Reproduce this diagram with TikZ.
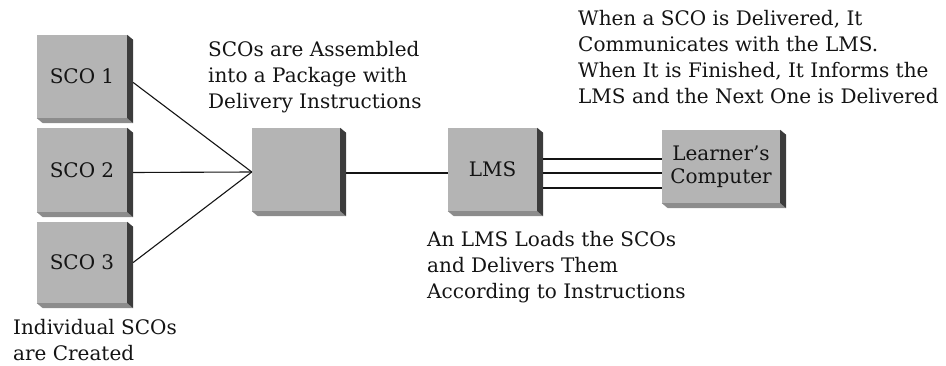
\documentclass[tikz,border=0pt]{standalone}
\usepackage{fontspec}
\setmainfont{DejaVu Serif}
\definecolor{boxface}{HTML}{B4B4B4}
\definecolor{boxright}{HTML}{3C3C3C}
\definecolor{boxbottom}{HTML}{8C8C8C}
\definecolor{ink}{HTML}{141414}
% extruded edges of a raised box: bottom strip first, dark right strip on top
\newcommand\raisededges[1]{%
  \fill[boxbottom] (#1.south west) -- (#1.south east) -- ++(6,5)
    -- ([shift={(6pt,-5pt)}]#1.south west) -- cycle;
  \fill[boxright] (#1.north east) -- ++(6,5)
    -- ([shift={(6pt,-5pt)}]#1.south east) -- (#1.south east) -- cycle;}
\begin{document}
\begin{tikzpicture}[x=1pt,y=-1pt,
  txt/.style={font=\fontsize{20}{26}\selectfont, text=ink},
  raised/.style 2 args={fill=boxface, draw=none, inner sep=0pt,
    minimum width=#1, minimum height=#2, txt},
  caption/.style={txt, align=left, anchor=north west, inner sep=0pt},
  wire/.style={draw=ink, line width=1.1pt}]
\useasboundingbox (0,0) rectangle (946,366);

% boxes
\node[raised={90pt}{83pt}] (s1) at (82,76.5) {SCO 1};
\node[raised={90pt}{84pt}] (s2) at (82,170) {SCO 2};
\node[raised={90pt}{81pt}] (s3) at (82,262.5) {SCO 3};
\node[raised={88pt}{83pt}] (pkg) at (296,169.5) {};
\node[raised={89pt}{83pt}] (lms) at (492.5,169.5) {LMS};
\node[raised={118pt}{73pt}, align=center,
      font=\fontsize{20}{23}\selectfont] (lc) at (721,166.5) {Learner’s\\Computer};
\foreach \b in {s1,s2,s3,pkg,lms,lc} {\raisededges{\b}}

% connectors
\coordinate (join) at ([yshift=-2.5pt]pkg.west);
\draw[wire] ([shift={(6pt,-6pt)}]s1.east) -- (join);
\draw[wire] ([shift={(6pt,-2.5pt)}]s2.east) -- (join);
\draw[wire] ([shift={(6pt,0pt)}]s3.east) -- (join);
\draw[wire] ([shift={(6pt,-3.5pt)}]pkg.east) -- ([yshift=-3.5pt]pkg.east -| lms.west);
\foreach \dy in {10.5,-3.5,-18.5}
  \draw[wire] ([shift={(6pt,\dy pt)}]lms.east) -- ([yshift=\dy pt]lms.east -| lc.west);

% captions
\node[caption] (capasm) at (208,40.8)
  {SCOs are Assembled\\into a Package with\\Delivery Instructions};
\node[caption] (capdel) at (578,9.8)
  {When a SCO is Delivered, It\\Communicates with the LMS.\\When It is Finished, It Informs the\\LMS and the Next One is Delivered};
\node[caption] (caplms) at (427,230.8)
  {An LMS Loads the SCOs\\and Delivers Them\\According to Instructions};
\node[caption] (capsco) at (13,319.5)
  {Individual SCOs\\are Created};
\end{tikzpicture}
\end{document}
